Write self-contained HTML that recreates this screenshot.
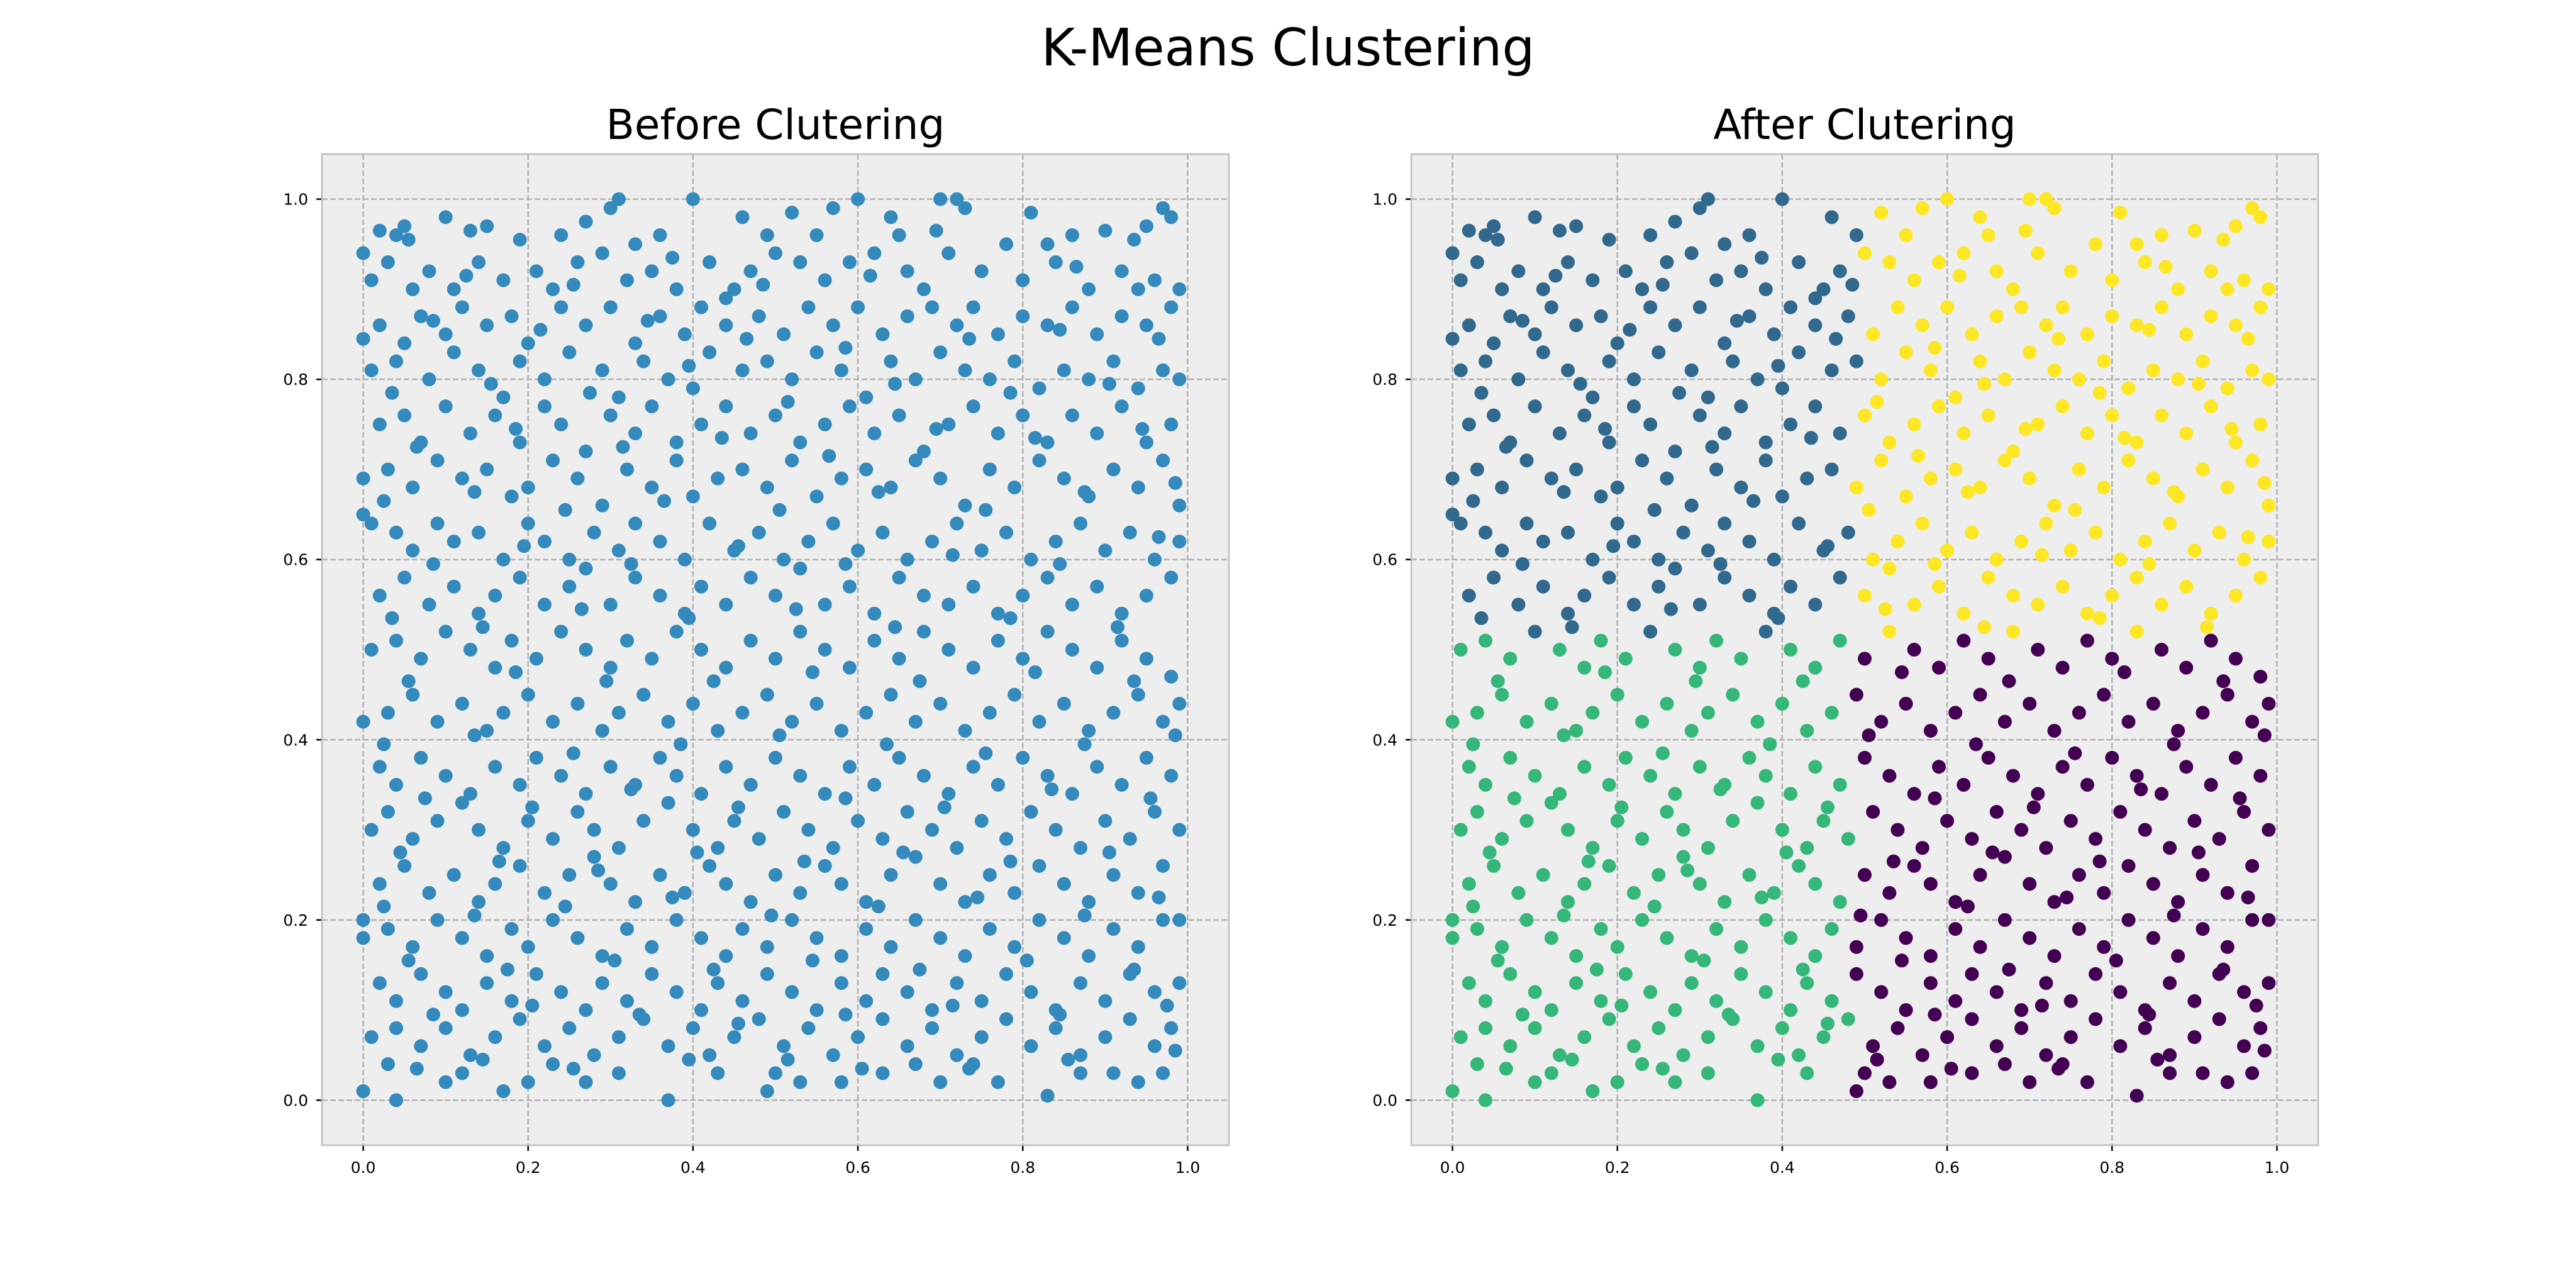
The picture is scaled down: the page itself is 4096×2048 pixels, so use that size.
<!DOCTYPE html>
<html><head><meta charset="utf-8"><style>
html,body{margin:0;padding:0;background:#fff;}
svg{display:block;font-family:"DejaVu Sans","Liberation Sans",sans-serif;}
</style></head><body>
<svg id="chart" width="4096" height="2048" viewBox="0 0 4096 2048" xmlns="http://www.w3.org/2000/svg">
<rect width="4096" height="2048" fill="#ffffff"/>
<text x="2048" y="104" font-size="82" text-anchor="middle" fill="#000">K-Means Clustering</text>
<g id="p1"></g>
<g id="p2"></g>
</svg>
<script>
const points = [
[0.0,0.94],[0.02,0.965],[0.04,0.96],[0.05,0.97],[0.1,0.98],[0.13,0.965],[0.15,0.97],[0.24,0.96],[0.27,0.975],[0.3,0.99],[0.31,1.0],[0.4,1.0],[0.46,0.98],[0.49,0.96],[0.52,0.985],[0.57,0.99],[0.6,1.0],[0.64,0.98],[0.65,0.96],[0.7,1.0],[0.72,1.0],[0.73,0.99],[0.81,0.985],[0.86,0.96],[0.9,0.965],[0.95,0.97],[0.97,0.99],[0.98,0.98],[0.55,0.96],[0.36,0.96],[0.19,0.955],[0.83,0.95],[0.29,0.94],[0.33,0.95],
[0.01,0.91],[0.03,0.93],[0.06,0.9],[0.08,0.92],[0.11,0.9],[0.14,0.93],[0.17,0.91],[0.21,0.92],[0.23,0.9],[0.26,0.93],[0.32,0.91],[0.35,0.92],[0.38,0.9],[0.42,0.93],[0.44,0.89],[0.47,0.92],[0.5,0.94],[0.53,0.93],[0.56,0.91],[0.59,0.93],[0.62,0.94],[0.66,0.92],[0.68,0.9],[0.71,0.94],[0.75,0.92],[0.78,0.95],[0.8,0.91],[0.84,0.93],[0.88,0.9],[0.92,0.92],[0.94,0.9],[0.96,0.91],[0.99,0.9],[0.45,0.9],
[0.02,0.86],[0.05,0.84],[0.07,0.87],[0.1,0.85],[0.12,0.88],[0.15,0.86],[0.18,0.87],[0.2,0.84],[0.24,0.88],[0.27,0.86],[0.3,0.88],[0.33,0.84],[0.36,0.87],[0.39,0.85],[0.41,0.88],[0.44,0.86],[0.48,0.87],[0.51,0.85],[0.54,0.88],[0.57,0.86],[0.6,0.88],[0.63,0.85],[0.66,0.87],[0.69,0.88],[0.72,0.86],[0.74,0.88],[0.77,0.85],[0.8,0.87],[0.83,0.86],[0.86,0.88],[0.89,0.85],[0.92,0.87],[0.95,0.86],[0.98,0.88],[0.0,0.845],
[0.01,0.81],[0.04,0.82],[0.08,0.8],[0.11,0.83],[0.14,0.81],[0.17,0.78],[0.19,0.82],[0.22,0.8],[0.25,0.83],[0.29,0.81],[0.31,0.78],[0.34,0.82],[0.37,0.8],[0.4,0.79],[0.42,0.83],[0.46,0.81],[0.49,0.82],[0.52,0.8],[0.55,0.83],[0.58,0.81],[0.61,0.78],[0.64,0.82],[0.67,0.8],[0.7,0.83],[0.73,0.81],[0.76,0.8],[0.79,0.82],[0.82,0.79],[0.85,0.81],[0.88,0.8],[0.91,0.82],[0.94,0.79],[0.97,0.81],[0.99,0.8],
[0.02,0.75],[0.05,0.76],[0.07,0.73],[0.1,0.77],[0.13,0.74],[0.16,0.76],[0.19,0.73],[0.22,0.77],[0.24,0.75],[0.27,0.72],[0.3,0.76],[0.33,0.74],[0.35,0.77],[0.38,0.73],[0.41,0.75],[0.44,0.77],[0.47,0.74],[0.5,0.76],[0.53,0.73],[0.56,0.75],[0.59,0.77],[0.62,0.74],[0.65,0.76],[0.68,0.72],[0.71,0.75],[0.74,0.77],[0.77,0.74],[0.8,0.76],[0.83,0.73],[0.86,0.76],[0.89,0.74],[0.92,0.77],[0.95,0.73],[0.98,0.75],
[0.0,0.69],[0.03,0.7],[0.06,0.68],[0.09,0.71],[0.12,0.69],[0.15,0.7],[0.18,0.67],[0.2,0.68],[0.23,0.71],[0.26,0.69],[0.29,0.66],[0.32,0.7],[0.35,0.68],[0.38,0.71],[0.4,0.67],[0.43,0.69],[0.46,0.7],[0.49,0.68],[0.52,0.71],[0.55,0.67],[0.58,0.69],[0.61,0.7],[0.64,0.68],[0.67,0.71],[0.7,0.69],[0.73,0.66],[0.76,0.7],[0.79,0.68],[0.82,0.71],[0.85,0.69],[0.88,0.67],[0.91,0.7],[0.94,0.68],[0.97,0.71],[0.99,0.66],
[0.01,0.64],[0.04,0.63],[0.06,0.61],[0.09,0.64],[0.11,0.62],[0.14,0.63],[0.17,0.6],[0.2,0.64],[0.22,0.62],[0.25,0.6],[0.28,0.63],[0.31,0.61],[0.33,0.64],[0.36,0.62],[0.39,0.6],[0.42,0.64],[0.45,0.61],[0.48,0.63],[0.51,0.6],[0.54,0.62],[0.57,0.64],[0.6,0.61],[0.63,0.63],[0.66,0.6],[0.69,0.62],[0.72,0.64],[0.75,0.61],[0.78,0.63],[0.81,0.6],[0.84,0.62],[0.87,0.64],[0.9,0.61],[0.93,0.63],[0.96,0.6],[0.99,0.62],[0.0,0.65],
[0.02,0.56],[0.05,0.58],[0.08,0.55],[0.11,0.57],[0.14,0.54],[0.16,0.56],[0.19,0.58],[0.22,0.55],[0.25,0.57],[0.27,0.59],[0.3,0.55],[0.33,0.58],[0.36,0.56],[0.39,0.54],[0.41,0.57],[0.44,0.55],[0.47,0.58],[0.5,0.56],[0.53,0.59],[0.56,0.55],[0.59,0.57],[0.62,0.54],[0.65,0.58],[0.68,0.56],[0.71,0.55],[0.74,0.57],[0.77,0.54],[0.8,0.56],[0.83,0.58],[0.86,0.55],[0.89,0.57],[0.92,0.54],[0.95,0.56],[0.98,0.58],
[0.01,0.5],[0.04,0.51],[0.07,0.49],[0.1,0.52],[0.13,0.5],[0.16,0.48],[0.18,0.51],[0.21,0.49],[0.24,0.52],[0.27,0.5],[0.3,0.48],[0.32,0.51],[0.35,0.49],[0.38,0.52],[0.41,0.5],[0.44,0.48],[0.47,0.51],[0.5,0.49],[0.53,0.52],[0.56,0.5],[0.59,0.48],[0.62,0.51],[0.65,0.49],[0.68,0.52],[0.71,0.5],[0.74,0.48],[0.77,0.51],[0.8,0.49],[0.83,0.52],[0.86,0.5],[0.89,0.48],[0.92,0.51],[0.95,0.49],[0.98,0.47],
[0.0,0.42],[0.03,0.43],[0.06,0.45],[0.09,0.42],[0.12,0.44],[0.15,0.41],[0.17,0.43],[0.2,0.45],[0.23,0.42],[0.26,0.44],[0.29,0.41],[0.31,0.43],[0.34,0.45],[0.37,0.42],[0.4,0.44],[0.43,0.41],[0.46,0.43],[0.49,0.45],[0.52,0.42],[0.55,0.44],[0.58,0.41],[0.61,0.43],[0.64,0.45],[0.67,0.42],[0.7,0.44],[0.73,0.41],[0.76,0.43],[0.79,0.45],[0.82,0.42],[0.85,0.44],[0.88,0.41],[0.91,0.43],[0.94,0.45],[0.97,0.42],[0.99,0.44],
[0.02,0.37],[0.04,0.35],[0.07,0.38],[0.1,0.36],[0.13,0.34],[0.16,0.37],[0.19,0.35],[0.21,0.38],[0.24,0.36],[0.27,0.34],[0.3,0.37],[0.33,0.35],[0.36,0.38],[0.38,0.36],[0.41,0.34],[0.44,0.37],[0.47,0.35],[0.5,0.38],[0.53,0.36],[0.56,0.34],[0.59,0.37],[0.62,0.35],[0.65,0.38],[0.68,0.36],[0.71,0.34],[0.74,0.37],[0.77,0.35],[0.8,0.38],[0.83,0.36],[0.86,0.34],[0.89,0.37],[0.92,0.35],[0.95,0.38],[0.98,0.36],
[0.01,0.3],[0.03,0.32],[0.06,0.29],[0.09,0.31],[0.12,0.33],[0.14,0.3],[0.17,0.28],[0.2,0.31],[0.23,0.29],[0.26,0.32],[0.28,0.3],[0.31,0.28],[0.34,0.31],[0.37,0.33],[0.4,0.3],[0.43,0.28],[0.45,0.31],[0.48,0.29],[0.51,0.32],[0.54,0.3],[0.57,0.28],[0.6,0.31],[0.63,0.29],[0.66,0.32],[0.69,0.3],[0.72,0.28],[0.75,0.31],[0.78,0.29],[0.81,0.32],[0.84,0.3],[0.87,0.28],[0.9,0.31],[0.93,0.29],[0.96,0.32],[0.99,0.3],
[0.02,0.24],[0.05,0.26],[0.08,0.23],[0.11,0.25],[0.14,0.22],[0.16,0.24],[0.19,0.26],[0.22,0.23],[0.25,0.25],[0.28,0.27],[0.3,0.24],[0.33,0.22],[0.36,0.25],[0.39,0.23],[0.42,0.26],[0.44,0.24],[0.47,0.22],[0.5,0.25],[0.53,0.23],[0.56,0.26],[0.58,0.24],[0.61,0.22],[0.64,0.25],[0.67,0.27],[0.7,0.24],[0.73,0.22],[0.76,0.25],[0.79,0.23],[0.82,0.26],[0.85,0.24],[0.88,0.22],[0.91,0.25],[0.94,0.23],[0.97,0.26],
[0.0,0.2],[0.0,0.18],[0.03,0.19],[0.06,0.17],[0.09,0.2],[0.12,0.18],[0.15,0.16],[0.18,0.19],[0.2,0.17],[0.23,0.2],[0.26,0.18],[0.29,0.16],[0.32,0.19],[0.35,0.17],[0.38,0.2],[0.41,0.18],[0.44,0.16],[0.46,0.19],[0.49,0.17],[0.52,0.2],[0.55,0.18],[0.58,0.16],[0.61,0.19],[0.64,0.17],[0.67,0.2],[0.7,0.18],[0.73,0.16],[0.76,0.19],[0.79,0.17],[0.82,0.2],[0.85,0.18],[0.88,0.16],[0.91,0.19],[0.94,0.17],[0.97,0.2],[0.99,0.2],
[0.02,0.13],[0.04,0.11],[0.07,0.14],[0.1,0.12],[0.12,0.1],[0.15,0.13],[0.18,0.11],[0.21,0.14],[0.24,0.12],[0.27,0.1],[0.29,0.13],[0.32,0.11],[0.35,0.14],[0.38,0.12],[0.41,0.1],[0.43,0.13],[0.46,0.11],[0.49,0.14],[0.52,0.12],[0.55,0.1],[0.58,0.13],[0.61,0.11],[0.63,0.14],[0.66,0.12],[0.69,0.1],[0.72,0.13],[0.75,0.11],[0.78,0.14],[0.81,0.12],[0.84,0.1],[0.87,0.13],[0.9,0.11],[0.93,0.14],[0.96,0.12],[0.99,0.13],
[0.01,0.07],[0.04,0.08],[0.07,0.06],[0.1,0.08],[0.13,0.05],[0.16,0.07],[0.19,0.09],[0.22,0.06],[0.25,0.08],[0.28,0.05],[0.31,0.07],[0.34,0.09],[0.37,0.06],[0.4,0.08],[0.42,0.05],[0.45,0.07],[0.48,0.09],[0.51,0.06],[0.54,0.08],[0.57,0.05],[0.6,0.07],[0.63,0.09],[0.66,0.06],[0.69,0.08],[0.72,0.05],[0.75,0.07],[0.78,0.09],[0.81,0.06],[0.84,0.08],[0.87,0.05],[0.9,0.07],[0.93,0.09],[0.96,0.06],[0.98,0.08],
[0.0,0.01],[0.04,0.0],[0.03,0.04],[0.1,0.02],[0.12,0.03],[0.17,0.01],[0.2,0.02],[0.23,0.04],[0.27,0.02],[0.31,0.03],[0.37,0.0],[0.43,0.03],[0.49,0.01],[0.5,0.03],[0.53,0.02],[0.58,0.02],[0.63,0.03],[0.67,0.04],[0.7,0.02],[0.74,0.04],[0.77,0.02],[0.83,0.005],[0.87,0.03],[0.91,0.03],[0.94,0.02],[0.97,0.03],
[0.055,0.955],[0.125,0.915],[0.255,0.905],[0.375,0.935],[0.485,0.905],[0.615,0.915],[0.695,0.965],[0.865,0.925],[0.935,0.955],[0.085,0.865],[0.215,0.855],[0.345,0.865],[0.465,0.845],[0.585,0.835],[0.735,0.845],[0.845,0.855],[0.965,0.845],
[0.035,0.785],[0.155,0.795],[0.275,0.785],[0.395,0.815],[0.515,0.775],[0.645,0.795],[0.785,0.785],[0.905,0.795],[0.065,0.725],[0.185,0.745],[0.315,0.725],[0.435,0.735],[0.565,0.715],[0.695,0.745],[0.815,0.735],[0.945,0.745],
[0.025,0.665],[0.135,0.675],[0.245,0.655],[0.365,0.665],[0.505,0.655],[0.625,0.675],[0.755,0.655],[0.875,0.675],[0.985,0.685],[0.085,0.595],[0.195,0.615],[0.325,0.595],[0.455,0.615],[0.585,0.595],[0.715,0.605],[0.845,0.595],[0.965,0.625],
[0.035,0.535],[0.145,0.525],[0.265,0.545],[0.395,0.535],[0.525,0.545],[0.645,0.525],[0.785,0.535],[0.915,0.525],[0.055,0.465],[0.185,0.475],[0.295,0.465],[0.425,0.465],[0.545,0.475],[0.675,0.465],[0.815,0.475],[0.935,0.465],
[0.025,0.395],[0.135,0.405],[0.255,0.385],[0.385,0.395],[0.505,0.405],[0.635,0.395],[0.755,0.385],[0.875,0.395],[0.985,0.405],[0.075,0.335],[0.205,0.325],[0.325,0.345],[0.455,0.325],[0.585,0.335],[0.705,0.325],[0.835,0.345],[0.955,0.335],
[0.045,0.275],[0.165,0.265],[0.285,0.255],[0.405,0.275],[0.535,0.265],[0.655,0.275],[0.785,0.265],[0.905,0.275],[0.025,0.215],[0.135,0.205],[0.245,0.215],[0.375,0.225],[0.495,0.205],[0.625,0.215],[0.745,0.225],[0.875,0.205],[0.965,0.225],
[0.055,0.155],[0.175,0.145],[0.305,0.155],[0.425,0.145],[0.545,0.155],[0.675,0.145],[0.805,0.155],[0.935,0.145],[0.085,0.095],[0.205,0.105],[0.335,0.095],[0.455,0.085],[0.585,0.095],[0.715,0.105],[0.845,0.095],[0.975,0.105],
[0.065,0.035],[0.145,0.045],[0.255,0.035],[0.395,0.045],[0.515,0.045],[0.605,0.035],[0.735,0.035],[0.855,0.045],[0.985,0.055]
];
const centroids = [[0.75,0.25],[0.22,0.79],[0.22,0.25],[0.76,0.78]];
const clusterColors = ["#440154","#31688e","#35b779","#fde725"];
const xTicks = [0,0.2,0.4,0.6,0.8,1.0];
const yTicks = [0,0.2,0.4,0.6,0.8,1.0];
const tickLabels = ["0.0","0.2","0.4","0.6","0.8","1.0"];

const NS="http://www.w3.org/2000/svg";
function mk(tag,attrs,parent){const e=document.createElementNS(NS,tag);for(const k in attrs)e.setAttribute(k,attrs[k]);parent.appendChild(e);return e;}
function label(p){let b=0,bd=1e9;centroids.forEach((c,i)=>{const d=(p[0]-c[0])**2+(p[1]-c[1])**2;if(d<bd){bd=d;b=i;}});return b;}

function panel(g,left,title,colored){
  const top=245,w=1442,h=1576;
  const sx=v=>left+(v+0.05)/1.1*w;
  const sy=v=>top+h-(v+0.05)/1.1*h;
  const bg=mk('rect',{x:left,y:top,width:w,height:h,fill:'#eeeeee'},g);
  
  
  xTicks.forEach((t,i)=>{
    const l=mk('line',{x1:sx(t),x2:sx(t),y1:top,y2:top+h,stroke:'#b2b2b2','stroke-width':2.5,'stroke-dasharray':'9,4'},g);
    
    
    mk('line',{x1:sx(t),x2:sx(t),y1:top+h,y2:top+h+9,stroke:'#000','stroke-width':2.5},g);
    const tx=mk('text',{x:sx(t),y:top+h+44,'font-size':25,'text-anchor':'middle',fill:'#000'},g);
    tx.textContent=tickLabels[i];
    
    
  });
  yTicks.forEach((t,i)=>{
    const l=mk('line',{x1:left,x2:left+w,y1:sy(t),y2:sy(t),stroke:'#b2b2b2','stroke-width':2.5,'stroke-dasharray':'9,4'},g);
    
    
    mk('line',{x1:left-9,x2:left,y1:sy(t),y2:sy(t),stroke:'#000','stroke-width':2.5},g);
    const ty=mk('text',{x:left-22,y:sy(t)+9,'font-size':25,'text-anchor':'end',fill:'#000'},g);
    ty.textContent=tickLabels[i];
    
    
  });
  points.forEach(p=>{
    const c=mk('circle',{cx:sx(p[0]),cy:sy(p[1]),r:11,fill:colored?clusterColors[label(p)]:'#348abd'},g);
    
    
  });
  const fr=mk('rect',{x:left,y:top,width:w,height:h,fill:'none',stroke:'#bcbcbc','stroke-width':2.5},g);
  
  
  const tt=mk('text',{x:left+w/2,y:top-24,'font-size':66,'text-anchor':'middle',fill:'#000'},g);
  tt.textContent=title;
  
  
}
panel(document.getElementById('p1'),512,'Before Clutering',false);
panel(document.getElementById('p2'),2244,'After Clutering',true);
</script>
</body></html>
